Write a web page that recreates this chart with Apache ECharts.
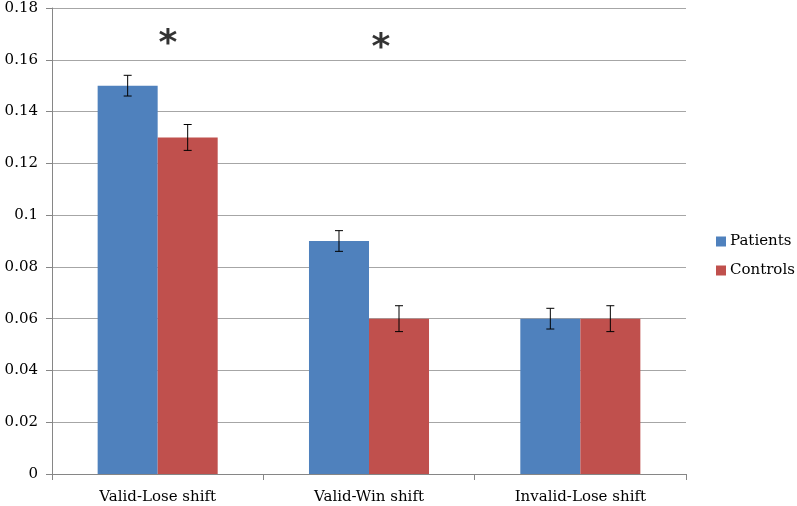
<!DOCTYPE html>
<html><head><meta charset="utf-8">
<script src="https://cdn.jsdelivr.net/npm/echarts@6/dist/echarts.min.js"></script>
<style>html,body{margin:0;padding:0;background:#fff}#c{width:797px;height:506px}</style>
</head><body><div id="c"></div>
<script>
const categories = ['Valid-Lose shift', 'Valid-Win shift', 'Invalid-Lose shift'];
const patients = [0.150, 0.090, 0.060];
const controls = [0.130, 0.060, 0.060];
const patientsErr = [0.004, 0.004, 0.004];
const controlsErr = [0.005, 0.005, 0.005];
const yTicks = [0, 0.02, 0.04, 0.06, 0.08, 0.1, 0.12, 0.14, 0.16, 0.18];
const stars = [[0.548, 0.1685], [1.556, 0.1670]];

const FONT = '"DejaVu Serif", "Liberation Serif", serif';
const chart = echarts.init(document.getElementById('c'));

function errSeries(name, vals, errs, seriesIdx) {
  return {
    type: 'custom', name: name + ' err', xAxisIndex: 0, yAxisIndex: 0, z: 10,
    data: vals.map((v, i) => [i, v - errs[i], v + errs[i]]),
    renderItem: function (params, api) {
      const i = api.value(0);
      const lo = api.coord([i, api.value(1)]);
      const hi = api.coord([i, api.value(2)]);
      const band = api.size([1, 0])[0];
      const barW = band * 0.284;
      const x = lo[0] + (seriesIdx === 0 ? -barW / 2 : barW / 2);
      const cap = 4;
      const st = { stroke: '#000', lineWidth: 1 };
      return { type: 'group', children: [
        { type: 'line', shape: { x1: x, y1: lo[1], x2: x, y2: hi[1] }, style: st },
        { type: 'line', shape: { x1: x - cap, y1: lo[1], x2: x + cap, y2: lo[1] }, style: st },
        { type: 'line', shape: { x1: x - cap, y1: hi[1], x2: x + cap, y2: hi[1] }, style: st }
      ]};
    }
  };
}

chart.setOption({
  animation: false,
  backgroundColor: '#fff',
  grid: { left: 52, right: 111, top: 8, bottom: 32, containLabel: false },
  legend: {
    orient: 'vertical', left: 711, top: 229, itemGap: 14,
    itemWidth: 10, itemHeight: 10, icon: 'rect',
    data: ['Patients', 'Controls'],
    textStyle: { fontFamily: FONT, fontSize: 15, color: '#000', padding: [0, 0, 0, -1] }
  },
  xAxis: [{
    type: 'category', data: categories,
    axisLine: { lineStyle: { color: '#868686' } },
    axisTick: { show: true, length: 6, lineStyle: { color: '#868686' } },
    axisLabel: { fontFamily: FONT, fontSize: 15, color: '#000', margin: 16 }
  }, {
    type: 'value', min: 0, max: 3, show: false
  }],
  yAxis: {
    type: 'value', min: 0, max: 0.18, interval: 0.02,
    axisLine: { show: true, lineStyle: { color: '#868686' } },
    axisTick: { show: true, length: 6, lineStyle: { color: '#868686' } },
    splitLine: { lineStyle: { color: '#a6a6a6', width: 1 } },
    axisLabel: { fontFamily: FONT, fontSize: 15, color: '#000', margin: 14,
      formatter: v => { const t = yTicks.find(k => Math.abs(k - v) < 1e-9); return t === undefined ? '' : String(+t.toFixed(2)); } }
  },
  series: [
    { name: 'Patients', type: 'bar', data: patients, barWidth: '28.4%', barGap: '0%',
      itemStyle: { color: '#4F81BD' } },
    { name: 'Controls', type: 'bar', data: controls, barWidth: '28.4%', barGap: '0%',
      itemStyle: { color: '#C0504D' } },
    errSeries('Patients', patients, patientsErr, 0),
    errSeries('Controls', controls, controlsErr, 1),
    { type: 'scatter', xAxisIndex: 1, yAxisIndex: 0, data: stars, symbolSize: 0,
      label: { show: true, formatter: '*', position: 'inside', fontFamily: '"DejaVu Sans", sans-serif',
        fontWeight: 'bold', fontSize: 36, color: '#000', offset: [0, 7] } }
  ]
});
</script></body></html>
